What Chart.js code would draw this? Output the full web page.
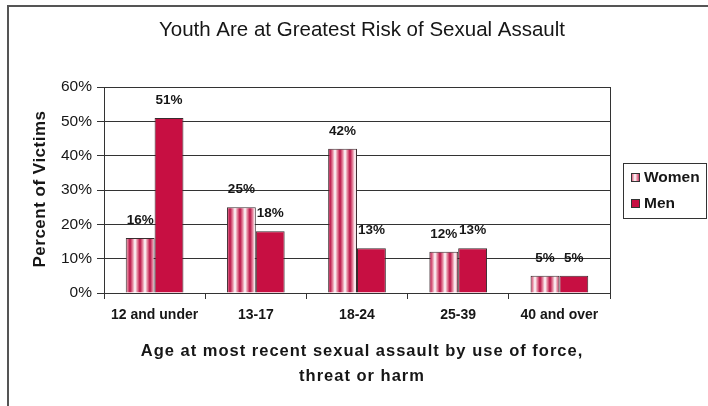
<!DOCTYPE html>
<html>
<head>
<meta charset="utf-8">
<script src="https://cdn.jsdelivr.net/npm/chart.js@4"></script>
<style>
  html, body { margin: 0; padding: 0; background: #fff; }
  #wrap { width: 708px; height: 406px; position: relative; }
</style>
</head>
<body>
<div id="wrap"><canvas id="c" width="708" height="406"></canvas></div>
<script>
const categories = ["12 and under", "13-17", "18-24", "25-39", "40 and over"];
const womenValues = [16, 25, 42, 12, 5];
const menValues = [51, 18, 13, 13, 5];
const yTicks = [0, 10, 20, 30, 40, 50, 60];
const chartTitle = "Youth Are at Greatest Risk of Sexual Assault";
const xTitle = ["Age at most recent sexual assault by use of force,", "threat or harm"];
const yTitle = "Percent of Victims";
const seriesNames = ["Women", "Men"];

const MEN_COLOR = "#C70F42";
const TEXT = "#161616";
const FONT = "'Liberation Sans', Arial, sans-serif";

function makeStripePattern(ctx) {
  const p = document.createElement("canvas");
  p.width = 10; p.height = 10;
  const pc = p.getContext("2d");
  const g = pc.createLinearGradient(0, 0, 10, 0);
  g.addColorStop(0, "#B80F45");
  g.addColorStop(0.25, "#E27E97");
  g.addColorStop(0.5, "#FFFFFF");
  g.addColorStop(0.75, "#E27E97");
  g.addColorStop(1, "#B80F45");
  pc.fillStyle = g;
  pc.fillRect(0, 0, 10, 10);
  return ctx.createPattern(p, "repeat");
}

const canvas = document.getElementById("c");
const ctx = canvas.getContext("2d");
const stripe = makeStripePattern(ctx);

const decorPlugin = {
  id: "decor",
  afterDraw(chart) {
    const c = chart.ctx;
    const area = chart.chartArea;
    c.save();
    // outer frame (top and left)
    c.strokeStyle = "#555";
    c.lineWidth = 2;
    c.beginPath();
    c.moveTo(8, 406); c.lineTo(8, 6); c.lineTo(708, 6);
    c.stroke();
    // plot right border
    c.strokeStyle = "#333";
    c.lineWidth = 1;
    c.beginPath();
    c.moveTo(area.right + 0.5, area.top); c.lineTo(area.right + 0.5, area.bottom);
    c.stroke();
    // title
    c.fillStyle = TEXT;
    c.textAlign = "center";
    c.textBaseline = "middle";
    c.font = "20.5px " + FONT;
    c.fillText(chartTitle, 362, 30);
    // x axis title
    c.font = "bold 16.5px " + FONT;
    if ("letterSpacing" in c) c.letterSpacing = "1px";
    c.fillText(xTitle[0], 362, 351);
    c.fillText(xTitle[1], 362, 376);
    // y axis title
    c.save();
    c.translate(40, 189);
    c.rotate(-Math.PI / 2);
    c.font = "bold 17px " + FONT;
    if ("letterSpacing" in c) c.letterSpacing = "0.5px";
    c.fillText(yTitle, 0, 0);
    c.restore();
    if ("letterSpacing" in c) c.letterSpacing = "0px";
    // data labels
    c.font = "bold 13.5px " + FONT;
    chart.data.datasets.forEach((ds, i) => {
      const meta = chart.getDatasetMeta(i);
      meta.data.forEach((bar, j) => {
        c.fillText(ds.data[j] + "%", bar.x, bar.y - 18);
      });
    });
    // legend
    c.strokeStyle = "#333";
    c.lineWidth = 1;
    c.strokeRect(623.5, 163.5, 83, 55);
    const items = [
      { name: seriesNames[0], fill: stripe, y: 177 },
      { name: seriesNames[1], fill: MEN_COLOR, y: 203 }
    ];
    c.textAlign = "left";
    c.font = "bold 15.5px " + FONT;
    items.forEach(it => {
      c.fillStyle = it.fill;
      c.fillRect(631, it.y - 4, 9, 9);
      c.strokeStyle = "#333";
      c.strokeRect(631.5, it.y - 3.5, 8, 8);
      c.fillStyle = TEXT;
      c.fillText(it.name, 644, it.y + 1);
    });
    c.restore();
  }
};

new Chart(ctx, {
  type: "bar",
  data: {
    labels: categories,
    datasets: [
      {
        label: seriesNames[0],
        data: womenValues,
        backgroundColor: stripe,
        borderColor: "#3a2a2e",
        borderWidth: 1,
        categoryPercentage: 0.57,
        barPercentage: 1.0
      },
      {
        label: seriesNames[1],
        data: menValues,
        backgroundColor: MEN_COLOR,
        borderColor: "#3a2a2e",
        borderWidth: 1,
        categoryPercentage: 0.57,
        barPercentage: 1.0
      }
    ]
  },
  options: {
    responsive: false,
    animation: false,
    devicePixelRatio: 1,
    layout: { padding: { left: 0, right: 98, top: 87, bottom: 0 } },
    plugins: {
      legend: { display: false },
      title: { display: false },
      tooltip: { enabled: false }
    },
    scales: {
      x: {
        offset: true,
        grid: {
          offset: true,
          drawOnChartArea: false,
          drawTicks: true,
          tickLength: 6,
          color: "#333"
        },
        border: { color: "#333", width: 1 },
        ticks: {
          color: TEXT,
          font: { family: FONT, size: 14, weight: "bold" },
          padding: 8,
          maxRotation: 0,
          autoSkip: false
        },
        afterFit(scale) { scale.height = 113; }
      },
      y: {
        min: 0,
        max: 60,
        grid: {
          color: "#333",
          tickLength: 7,
          lineWidth: 1
        },
        border: { color: "#333", width: 1 },
        ticks: {
          stepSize: 10,
          color: TEXT,
          font: { family: FONT, size: 15.5 },
          padding: 5,
          callback: v => yTicks.includes(v) ? v + "%" : ""
        },
        afterFit(scale) { scale.width = 104; }
      }
    }
  },
  plugins: [decorPlugin]
});
</script>
</body>
</html>
